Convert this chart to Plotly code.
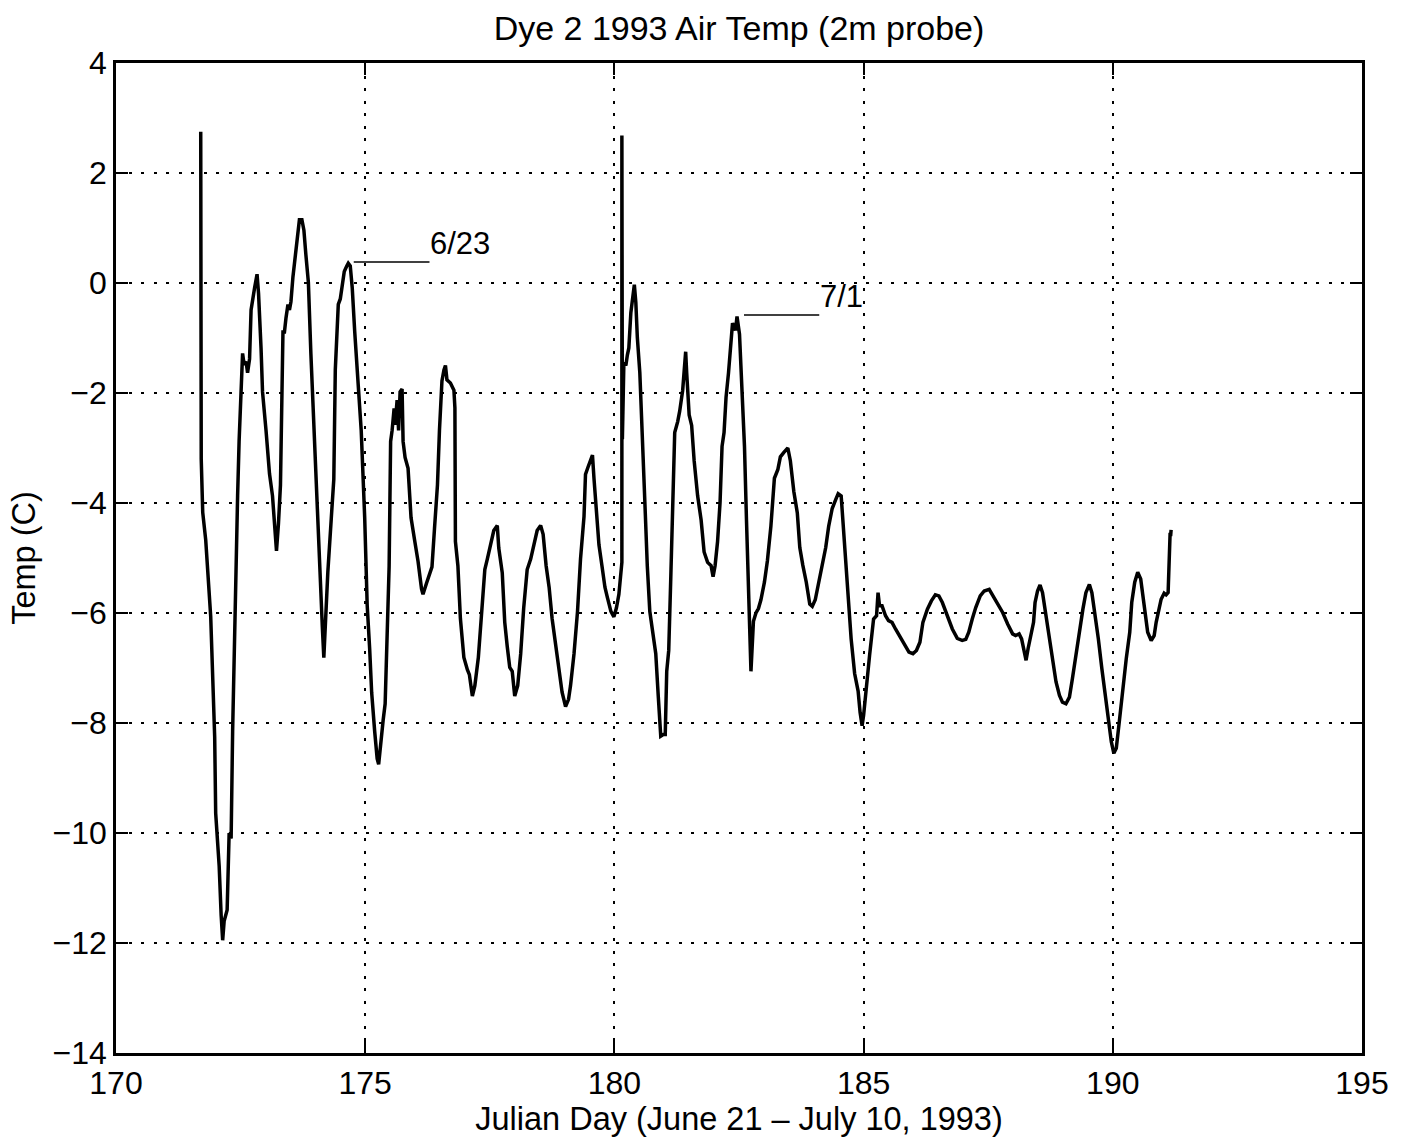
import plotly.graph_objects as go

# ---- data ----
day = [
    171.70, 171.705, 171.71, 171.74, 171.80, 171.90, 171.94, 171.98, 172.00, 172.07,
    172.11, 172.14, 172.17, 172.23, 172.27, 172.31, 172.34, 172.37, 172.41, 172.44,
    172.47, 172.51, 172.54, 172.57, 172.61, 172.64, 172.68, 172.71, 172.74, 172.78,
    172.83, 172.86, 172.91, 172.94, 173.01, 173.08, 173.14, 173.18, 173.22, 173.26,
    173.30, 173.35, 173.38, 173.41, 173.45, 173.48, 173.51, 173.55, 173.61, 173.68,
    173.73, 173.77, 173.81, 173.86, 173.91, 173.98, 174.05, 174.10, 174.14, 174.17,
    174.20, 174.25, 174.32, 174.37, 174.40, 174.44, 174.46, 174.50, 174.54, 174.58,
    174.63, 174.66, 174.70, 174.74, 174.79, 174.85, 174.92, 174.99, 175.04, 175.09,
    175.13, 175.19, 175.24, 175.27, 175.31, 175.36, 175.40, 175.44, 175.48, 175.51,
    175.54, 175.58, 175.60, 175.64, 175.67, 175.70, 175.74, 175.76, 175.80, 175.86,
    175.92, 175.99, 176.06, 176.13, 176.16, 176.23, 176.29, 176.34, 176.39, 176.45,
    176.49, 176.54, 176.58, 176.61,
    176.64, 176.71, 176.78, 176.80, 176.81, 176.86, 176.91, 176.98, 177.05, 177.09,
    177.15, 177.20, 177.27, 177.33, 177.40, 177.45, 177.51, 177.58, 177.65, 177.68,
    177.75, 177.80, 177.85, 177.90, 177.95, 178.00, 178.06, 178.12, 178.18, 178.25,
    178.32, 178.39, 178.45, 178.52, 178.57, 178.63, 178.69, 178.75, 178.82, 178.89,
    178.95, 179.02, 179.08, 179.12, 179.19, 179.26, 179.32, 179.39, 179.42, 179.47,
    179.52, 179.56, 179.59, 179.64, 179.69, 179.75, 179.81, 179.86, 179.93, 179.99,
    180.04, 180.09, 180.13, 180.15, 180.15, 180.16, 180.19, 180.23, 180.26, 180.29,
    180.33, 180.36, 180.40, 180.43, 180.46, 180.51, 180.56, 180.62, 180.66, 180.71,
    180.76, 180.83, 180.88, 180.93, 180.98, 181.02, 181.05, 181.09, 181.13, 181.18,
    181.21, 181.27, 181.31, 181.37, 181.41, 181.43, 181.45, 181.50, 181.55, 181.60,
    181.67, 181.74, 181.80, 181.87, 181.94, 181.98, 182.02, 182.07, 182.12, 182.16,
    182.20, 182.24, 182.29, 182.34, 182.37, 182.43, 182.46, 182.51, 182.55, 182.61,
    182.65, 182.69, 182.74,
    182.79, 182.84, 182.89, 182.94, 183.01, 183.07, 183.14, 183.21, 183.28, 183.33,
    183.40, 183.48, 183.53, 183.60, 183.67, 183.72, 183.78, 183.85, 183.92, 183.97,
    184.03, 184.10, 184.17, 184.24, 184.30, 184.37, 184.44, 184.49, 184.55, 184.59,
    184.64, 184.70, 184.75, 184.82, 184.89, 184.93, 184.97,
    185.00, 185.05, 185.12, 185.20, 185.26, 185.29, 185.32, 185.37, 185.44, 185.50,
    185.57, 185.64, 185.72, 185.81, 185.91, 185.99, 186.06, 186.13, 186.19, 186.28,
    186.36, 186.44, 186.51, 186.58, 186.68, 186.78, 186.88, 186.98, 187.05, 187.11,
    187.18, 187.25, 187.34, 187.42, 187.52, 187.58, 187.68, 187.79, 187.89, 187.99,
    188.05, 188.12, 188.17, 188.21, 188.26, 188.30, 188.36, 188.41, 188.44, 188.49,
    188.54, 188.59, 188.66, 188.72, 188.79, 188.86, 188.93, 188.99, 189.06, 189.13,
    189.19, 189.26, 189.33, 189.40, 189.46, 189.53, 189.58, 189.64, 189.71, 189.78,
    189.85, 189.91, 189.97, 190.02, 190.07, 190.13, 190.20, 190.27, 190.34, 190.38,
    190.44, 190.50, 190.56, 190.60, 190.65, 190.70, 190.77, 190.83, 190.87, 190.92,
    190.97, 191.03, 191.07, 191.11, 191.13, 191.15, 191.16, 191.17,
]

temp_c = [
    2.75, -1.50, -3.20, -4.17, -4.67, -6.06, -6.96, -8.25, -9.64, -10.60,
    -11.50, -11.95, -11.60, -11.40, -10.00, -10.10, -8.15, -6.66, -5.16, -3.87,
    -2.88, -1.68, -1.28, -1.48, -1.43, -1.63, -1.38, -0.49, -0.29, -0.09,
    0.16, -0.19, -1.18, -1.98, -2.68, -3.47, -3.87, -4.47, -4.87, -4.37,
    -3.67, -0.89, -0.89, -0.64, -0.39, -0.49, -0.34, 0.11, 0.61, 1.15,
    1.15, 0.96, 0.51, 0.01, -1.28, -2.88, -4.17, -5.66, -6.26, -6.81,
    -6.17, -5.26, -4.27, -3.57, -1.58, -0.59, -0.39, -0.29, 0.01, 0.21,
    0.31, 0.36, 0.31, -0.09, -0.89, -1.68, -2.68, -4.27, -5.86, -6.66,
    -7.45, -8.15, -8.65, -8.75, -8.35, -7.95, -7.65, -6.26, -5.16, -2.88,
    -2.68, -2.28, -2.58, -2.13, -2.68, -1.98, -1.93, -2.88, -3.17, -3.37,
    -4.27, -4.67, -5.06, -5.56, -5.66, -5.46, -5.31, -5.16, -4.47, -3.67,
    -2.68, -1.78, -1.58, -1.50,
    -1.76, -1.82, -1.95, -2.27, -4.70, -5.14, -6.10, -6.81, -7.03, -7.12,
    -7.51, -7.32, -6.81, -6.04, -5.21, -5.02, -4.76, -4.50, -4.41, -4.82,
    -5.27, -6.17, -6.61, -6.99, -7.06, -7.51, -7.32, -6.74, -5.91, -5.21,
    -5.02, -4.70, -4.50, -4.41, -4.57, -5.14, -5.53, -6.10, -6.55, -7.06,
    -7.44, -7.70, -7.57, -7.32, -6.74, -5.97, -5.02, -4.25, -3.48, -3.35,
    -3.23, -3.13, -3.55, -4.19, -4.76, -5.14, -5.53, -5.72, -5.97, -6.07,
    -5.91, -5.66, -5.34, -5.08, 2.68, -2.84, -1.45, -1.50, -1.31, -1.18,
    -0.54, -0.35, -0.03, -0.35, -0.99, -1.63, -2.97, -4.19, -5.14, -5.97,
    -6.29, -6.74, -7.51, -8.24, -8.21, -8.21, -7.06, -6.68, -5.40, -3.87,
    -2.72, -2.52, -2.33, -1.95, -1.57, -1.25, -1.63, -2.40, -2.59, -3.23,
    -3.87, -4.31, -4.89, -5.08, -5.14, -5.34, -5.14, -4.70, -3.99, -2.97,
    -2.72, -2.08, -1.63, -0.93, -0.73, -0.86, -0.61, -0.93, -1.63, -2.97,
    -4.31, -5.78, -7.06,
    -6.15, -6.00, -5.92, -5.76, -5.44, -5.05, -4.42, -3.55, -3.39, -3.16,
    -3.08, -3.00, -3.23, -3.79, -4.18, -4.81, -5.13, -5.44, -5.84, -5.88,
    -5.76, -5.44, -5.05, -4.81, -4.42, -4.10, -3.94, -3.83, -3.87, -4.42,
    -4.97, -5.76, -6.47, -7.10, -7.42, -7.81, -8.05,
    -7.86, -7.38, -6.77, -6.11, -6.05, -5.63, -5.87, -5.87, -6.05, -6.14,
    -6.17, -6.29, -6.41, -6.56, -6.71, -6.74, -6.68, -6.53, -6.17, -5.93,
    -5.78, -5.67, -5.69, -5.81, -6.05, -6.29, -6.46, -6.50, -6.48, -6.35,
    -6.11, -5.90, -5.69, -5.60, -5.57, -5.66, -5.81, -5.99, -6.20, -6.38,
    -6.41, -6.38, -6.47, -6.65, -6.86, -6.65, -6.35, -6.17, -5.81, -5.60,
    -5.49, -5.63, -6.05, -6.41, -6.89, -7.25, -7.50, -7.62, -7.65, -7.53,
    -7.19, -6.77, -6.29, -5.93, -5.63, -5.48, -5.63, -5.99, -6.47, -7.01,
    -7.50, -7.98, -8.34, -8.55, -8.46, -7.98, -7.38, -6.83, -6.35, -5.81,
    -5.44, -5.26, -5.38, -5.69, -6.05, -6.35, -6.50, -6.41, -6.17, -5.99,
    -5.75, -5.64, -5.67, -5.63, -4.96, -4.54, -4.60, -4.49,
]

x_ticks = [170, 175, 180, 185, 190, 195]
y_ticks = [-14, -12, -10, -8, -6, -4, -2, 0, 2, 4]

ann_labels = ["6/23", "7/1"]
ann_start_day = [174.77, 182.60]
ann_end_day = [176.29, 184.11]
ann_temp = [0.38, -0.58]

title_text = "Dye 2 1993 Air Temp (2m probe)"
x_title = "Julian Day (June 21 \u2013 July 10, 1993)"
y_title = "Temp (C)"

assert len(day) == len(temp_c), (len(day), len(temp_c))

FONT = "Liberation Sans, Arial, Helvetica, sans-serif"

fig = go.Figure()
fig.add_trace(go.Scatter(
    x=day, y=temp_c, mode="lines",
    line=dict(color="black", width=3.5),
    showlegend=False, hoverinfo="skip",
))

for lab, x0, x1, yv in zip(ann_labels, ann_start_day, ann_end_day, ann_temp):
    fig.add_shape(type="line", xref="x", yref="y", x0=x0, x1=x1, y0=yv, y1=yv,
                  line=dict(color="black", width=1.5))
    fig.add_annotation(x=x1, y=yv, xref="x", yref="y", text=lab,
                       showarrow=False, xanchor="left", yanchor="bottom",
                       borderpad=0, font=dict(family=FONT, size=31, color="black"))

axis_common = dict(
    showline=True, linecolor="black", linewidth=2.5, mirror="allticks",
    ticks="inside", ticklen=12, tickwidth=1.5, tickcolor="black",
    showgrid=True, gridcolor="black", gridwidth=2, griddash="3px,9.5px",
    zeroline=False,
    tickfont=dict(family=FONT, size=32, color="black"),
)

fig.update_xaxes(range=[170, 195], tickvals=x_ticks,
                 title=dict(text=x_title, font=dict(family=FONT, size=32.5, color="black"), standoff=0),
                 **axis_common)
fig.update_yaxes(range=[-14, 4], tickvals=y_ticks,
                 title=dict(text=y_title, font=dict(family=FONT, size=32.5, color="black"), standoff=8),
                 **axis_common)

fig.update_layout(
    width=1411, height=1142,
    margin=dict(l=116, r=49, t=63, b=89, autoexpand=False),
    paper_bgcolor="white", plot_bgcolor="white",
    title=dict(text=title_text, x=0.5, xanchor="center", xref="paper",
               y=1 - 28 / 1142, yanchor="middle",
               font=dict(family=FONT, size=34, color="black")),
)

fig.write_html("out.html")
